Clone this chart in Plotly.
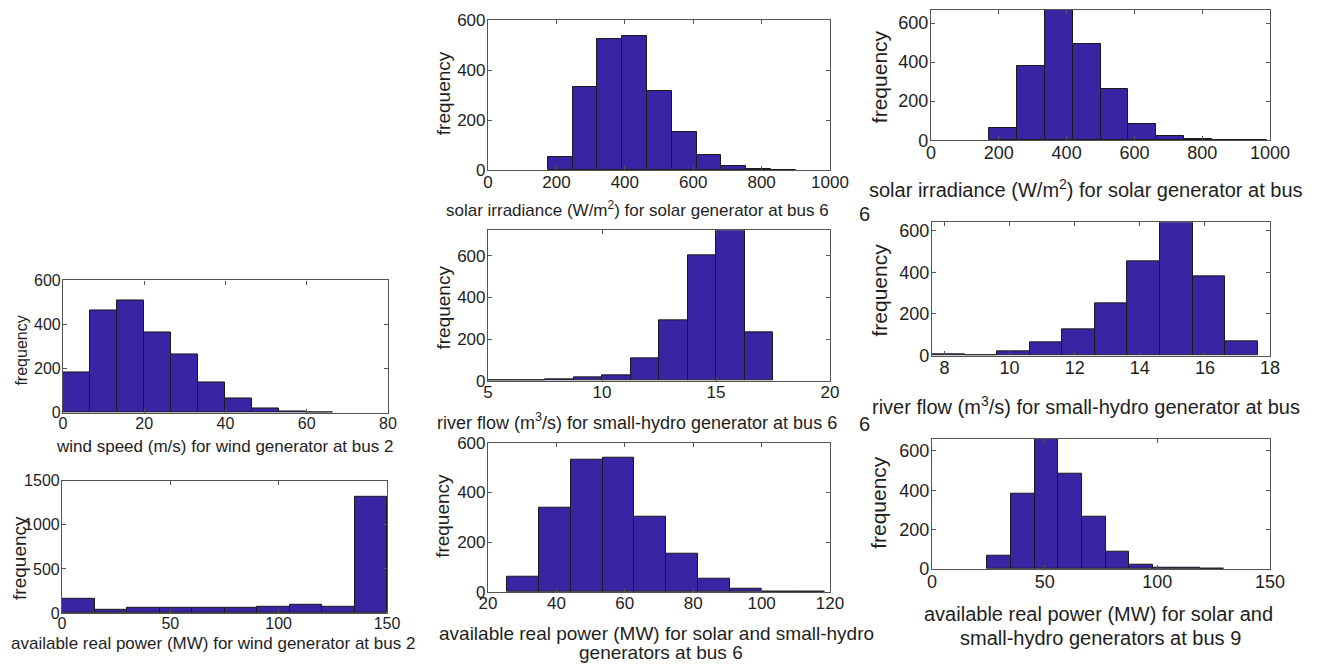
import plotly.graph_objects as go

# ---------------- data ----------------
wind_speed_edges = [0, 6.65, 13.3, 19.95, 26.6, 33.25, 39.9, 46.55, 53.2, 59.85, 66.5]
wind_speed_counts = [182, 463, 510, 365, 263, 135, 63, 20, 6, 2]

wind_power_edges = [0, 15, 30, 45, 60, 75, 90, 105, 120, 135, 150]
wind_power_counts = [160, 38, 63, 57, 57, 63, 65, 95, 72, 1318]

solar6_edges = [175, 247.5, 320, 392.5, 465, 537.5, 610, 682.5, 755, 827.5, 900]
solar6_counts = [53, 331, 524, 537, 318, 154, 60, 16, 6, 2]

river6_edges = [5, 6.25, 7.5, 8.75, 10, 11.25, 12.5, 13.75, 15, 16.25, 17.5]
river6_counts = [2, 2, 5, 16, 25, 109, 290, 600, 722, 230]

power6_edges = [25.6, 34.9, 44.2, 53.5, 62.8, 72.1, 81.4, 90.7, 100.0, 109.3, 118.6]
power6_counts = [60, 340, 530, 540, 302, 154, 53, 13, 3, 1]

solar9_edges = [172, 254, 336, 418, 500, 582, 664, 746, 828, 910, 992]
solar9_counts = [65, 380, 667, 493, 263, 83, 22, 8, 3, 1]

river9_edges = [7.62, 8.62, 9.62, 10.62, 11.62, 12.62, 13.62, 14.62, 15.62, 16.62, 17.62]
river9_counts = [7, 3, 18, 63, 128, 252, 453, 639, 378, 68]

power9_edges = [24.5, 35.0, 45.5, 56.0, 66.5, 77.0, 87.5, 98.0, 108.5, 119.0, 129.5]
power9_counts = [68, 383, 662, 485, 265, 87, 24, 8, 4, 2]

x_labels = [
    "wind speed (m/s) for wind generator at bus 2",
    "available real power (MW) for wind generator at bus 2",
    "solar irradiance (W/m<sup>2</sup>) for solar generator at bus 6",
    "river flow (m<sup>3</sup>/s) for small-hydro generator at bus 6",
    "available real power (MW) for solar and small-hydro",
    "generators at bus 6",
    "solar irradiance (W/m<sup>2</sup>) for solar generator at bus",
    "6",
    "river flow (m<sup>3</sup>/s) for small-hydro generator at bus",
    "6",
    "available real power (MW) for solar and",
    "small-hydro generators at bus 9",
]
y_label = "frequency"

# ---------------- layout ----------------
W, H = 1320, 670
BAR = "#3B24A4"
FONT = "Liberation Sans, Arial, Helvetica, sans-serif"
TXT = "#1e1e1e"

# the photographed page is slightly shrunk and offset; map target pixels to figure pixels
SX, OX, SY, OY = 0.978, 8.0, 0.970, 9.0
def px(r):
    return (r - OX) / SX
def py(r):
    return (r - OY) / SY
def fsz(s):
    return round(s / 0.975)

panels = [
    # edges, counts, target plot box (x0,x1,y0,y1), xrange, xticks, yrange, yticks, tick font
    (wind_speed_edges, wind_speed_counts, (62, 387, 280, 412), [0, 80], [0, 20, 40, 60, 80], [0, 600], [0, 200, 400, 600], 16),
    (wind_power_edges, wind_power_counts, (61, 386, 480, 612), [0, 150], [0, 50, 100, 150], [0, 1500], [0, 500, 1000, 1500], 16),
    (solar6_edges, solar6_counts, (487, 829, 20, 170), [0, 1000], [0, 200, 400, 600, 800, 1000], [0, 600], [0, 200, 400, 600], 17),
    (river6_edges, river6_counts, (487, 829, 230, 380), [5, 20], [5, 10, 15, 20], [0, 722], [0, 200, 400, 600], 17),
    (power6_edges, power6_counts, (487, 829, 442, 591), [20, 120], [20, 40, 60, 80, 100, 120], [0, 600], [0, 200, 400, 600], 17),
    (solar9_edges, solar9_counts, (930, 1269, 10, 140), [0, 1000], [0, 200, 400, 600, 800, 1000], [0, 667], [0, 200, 400, 600], 18),
    (river9_edges, river9_counts, (931, 1269, 222, 355), [7.62, 18.0], [8, 10, 12, 14, 16, 18], [0, 639], [0, 200, 400, 600], 18),
    (power9_edges, power9_counts, (931, 1269, 438, 568), [0, 150], [0, 50, 100, 150], [0, 662], [0, 200, 400, 600], 18),
]

fig = go.Figure()
layout = dict(
    width=W, height=H, margin=dict(l=0, r=0, t=0, b=0),
    paper_bgcolor="white", plot_bgcolor="white", showlegend=False,
    font=dict(family=FONT, color=TXT, size=16), bargap=0,
)

for i, (edges, counts, box, xr, xt, yr, yt, fs) in enumerate(panels):
    n = i + 1
    centers = [(edges[k] + edges[k + 1]) / 2 for k in range(len(counts))]
    widths = [edges[k + 1] - edges[k] for k in range(len(counts))]
    fig.add_trace(go.Bar(
        x=centers, y=counts, width=widths,
        marker=dict(color=BAR, line=dict(color="#1a1a1a", width=1)),
        xaxis=f"x{n}", yaxis=f"y{n}",
    ))
    x0, x1, y0, y1 = box
    axis_common = dict(
        showline=True, linecolor="#555555", linewidth=1.2, mirror="ticks",
        ticks="inside", ticklen=4, tickcolor="#555555", showgrid=False, zeroline=False,
        tickfont=dict(size=fsz(fs), family=FONT, color=TXT),
    )
    layout[f"xaxis{n}"] = dict(
        domain=[max(0, px(x0) / W), min(1, px(x1) / W)], range=xr, tickvals=xt,
        anchor=f"y{n}", ticklabelstandoff=-4, **axis_common,
    )
    layout[f"yaxis{n}"] = dict(
        domain=[max(0, 1 - py(y1) / H), min(1, 1 - py(y0) / H)], range=yr, tickvals=yt,
        anchor=f"x{n}", ticklabelstandoff=-2, **axis_common,
    )

fig.update_layout(**layout)

# x-axis titles: target (x, y, font size)
xlab_pos = [
    (223, 446, 17), (212, 642, 17), (636, 209, 17), (636, 421, 18),
    (655, 632, 19), (660, 651, 19),
    (1085, 188, 19.5), (863, 214, 19.5),
    (1085, 405, 19.5), (863, 423, 19.5),
    (1097, 613, 19.5), (1099, 637, 19.5),
]
for (x, y, fs), txt in zip(xlab_pos, x_labels):
    fig.add_annotation(x=px(x) / W, y=1 - py(y) / H, xref="paper", yref="paper", text=txt,
                       showarrow=False, xanchor="center", yanchor="middle",
                       font=dict(size=fsz(fs), family=FONT, color=TXT))

ylab_pos = [(21, 350, 16), (19, 557, 19), (442, 93, 19), (442, 307, 19),
            (442, 515, 19), (878, 77, 20), (878, 290, 20), (878, 502, 20)]
for x, y, fs in ylab_pos:
    fig.add_annotation(x=px(x) / W, y=1 - py(y) / H, xref="paper", yref="paper", text=y_label,
                       textangle=-90, showarrow=False, xanchor="center", yanchor="middle",
                       font=dict(size=fsz(fs), family=FONT, color=TXT))

fig.write_html(
    "out.html",
    config={"displayModeBar": False},
    post_script="document.body.style.margin='0';document.body.style.padding='0';"
                "document.documentElement.style.overflow='hidden';",
)
